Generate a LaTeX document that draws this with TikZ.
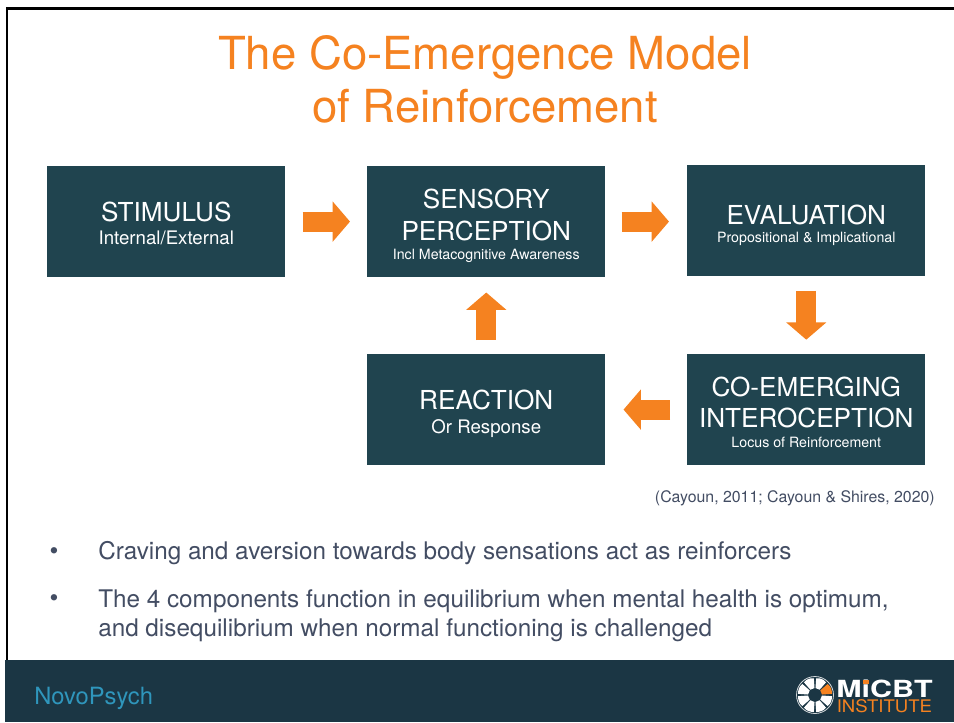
\documentclass[tikz,border=0pt]{standalone}
\usepackage{fontspec}
\setmainfont{TeX Gyre Heros}
\usetikzlibrary{arrows.meta}
\definecolor{boxteal}{HTML}{20444F}
\definecolor{footdark}{HTML}{1B3644}
\definecolor{orangeA}{HTML}{F58220}
\definecolor{bodytxt}{HTML}{434D63}
\definecolor{novoblue}{HTML}{2F96BC}
\tikzset{
  x=0.75pt,y=-0.75pt,
  box/.style={fill=boxteal,text=white,minimum width=178.5pt,minimum height=83pt,inner sep=0pt,align=center,anchor=north west},
  blockarrow/.style={draw=orangeA,line width=15pt,-{Triangle[length=13pt,width=29.5pt,fill=orangeA]}},
}
\newcommand{\bigt}[1]{{\fontsize{19.6}{24}\selectfont #1}}
\newcommand{\subt}[1]{{\fontsize{14}{16}\selectfont #1}}
\newcommand{\subs}[1]{{\fontsize{10.65}{12}\selectfont #1}}
\newcommand{\topstrut}[1]{\rule{0pt}{#1pt}}
\begin{document}
\begin{tikzpicture}
\useasboundingbox (0,0) rectangle (954,722);
\fill[white] (0,0) rectangle (954,722);
% frame
\fill[black] (6,7) rectangle (954,9.5);
\fill[black] (6,7) rectangle (8,660);
\fill[footdark] (5,660) rectangle (954,722);
% title
\node[text=orangeA,font=\fontsize{34.15}{39.6}\selectfont,align=center] (title) at (485,79.5) {The Co-Emergence Model\\of Reinforcement};
% boxes
\node[box] (stim) at (47,166) {\topstrut{17.3}\bigt{STIMULUS}\\[5.25pt]\subt{Internal/External}};
\node[box] (sens) at (367,166) {\topstrut{20.3}\bigt{SENSORY}\\[8.25pt]\bigt{PERCEPTION}\\[2pt]\subs{Incl Metacognitive Awareness}};
\node[box] (eval) at (687,165) {\topstrut{21.8}\bigt{EVALUATION}\\[1.5pt]\subs{Propositional \& Implicational}};
\node[box] (coem) at (687,354) {\topstrut{18.8}\bigt{CO-EMERGING}\\[7.5pt]\bigt{INTEROCEPTION}\\[2.75pt]\subs{Locus of Reinforcement}};
\node[box] (reac) at (367,354) {\topstrut{21.1}\bigt{REACTION}\\[6pt]\subt{Or Response}};
% arrows
\draw[blockarrow,shorten <=12.75pt,shorten >=12.75pt] (stim.east) -- (sens.west);
\draw[blockarrow,shorten <=12pt,shorten >=13.5pt] (sens.east) -- (eval.west |- sens.east);
\draw[blockarrow,shorten <=11pt,shorten >=10.75pt] (eval.south) -- (coem.north);
\draw[blockarrow,shorten <=12.75pt,shorten >=13.5pt] (coem.west) -- (reac.east);
\draw[blockarrow,shorten <=10.5pt,shorten >=11.5pt] (reac.north) -- (sens.south);
% citation
\node[text=bodytxt,font=\fontsize{11.9}{14}\selectfont,anchor=east,inner sep=0pt] (cite) at (935,498) {(Cayoun, 2011; Cayoun \& Shires, 2020)};
% bullets
\node[text=bodytxt,font=\fontsize{19}{22}\selectfont,anchor=base] (b1) at (54,559) {•};
\node[text=bodytxt,font=\fontsize{18.2}{21.75}\selectfont,anchor=base west,inner sep=0pt] (t1) at (98,559) {Craving and aversion towards body sensations act as reinforcers};
\node[text=bodytxt,font=\fontsize{19}{22}\selectfont,anchor=base] (b2) at (54,606) {•};
\node[text=bodytxt,font=\fontsize{18.2}{21.75}\selectfont,anchor=base west,align=left,inner sep=0pt] (t2) at (98,636) {The 4 components function in equilibrium when mental health is optimum,\\and disequilibrium when normal functioning is challenged};
% footer
\node[text=novoblue,font=\fontsize{17.8}{21}\selectfont,anchor=base west,inner sep=0pt] (novo) at (34,704) {NovoPsych};
% logo wheel
\coordinate (w) at (815,695);
\draw[white!80!footdark,line width=0.6pt] (w) circle[radius=18.5];
\foreach \a/\c in {0/white,45/white,90/white,135/white,180/white,225/white,270/white,315/orangeA}{
  \fill[\c] ([shift={(\a+4:7)}]w) -- ([shift={(\a+4:16.8)}]w) -- ([shift={(\a+13:17.2)}]w) -- ([shift={(\a+22.5:17.4)}]w) -- ([shift={(\a+32:17.2)}]w) -- ([shift={(\a+41:16.8)}]w) -- ([shift={(\a+41:7)}]w) -- cycle;
}
\node[text=white,font=\bfseries\fontsize{17.7}{21}\selectfont,anchor=base west,inner sep=0pt] (mi) at (836,697) {\scalebox{1.29}[1]{MiCBT}};
\fill[orangeA] (862.5,679.5) rectangle (869,683.5);
\node[text=orangeA,font=\fontsize{13}{16}\selectfont,anchor=base west,inner sep=0pt] (inst) at (836.5,712) {\scalebox{1.07}[1]{INSTITUTE}};
\end{tikzpicture}
\end{document}
